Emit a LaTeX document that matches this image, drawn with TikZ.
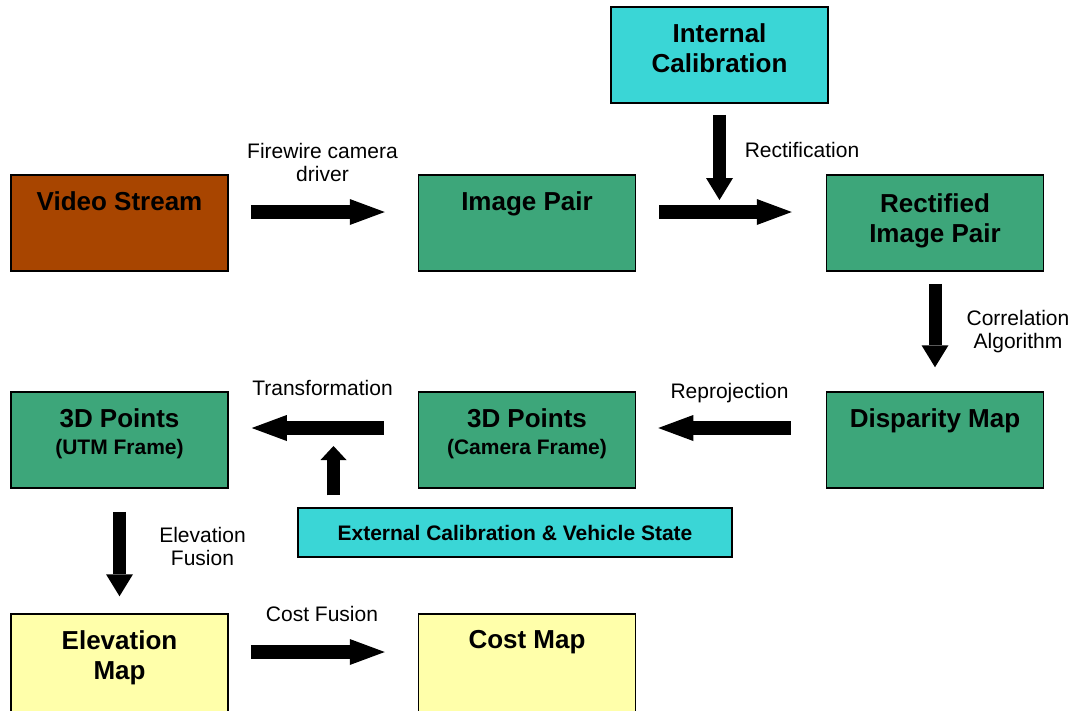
\documentclass[tikz,border=0pt]{standalone}
\usepackage{fontspec}
\setmainfont{Liberation Sans}
\usetikzlibrary{arrows.meta}
\definecolor{rust}{RGB}{168,69,0}
\definecolor{sea}{RGB}{61,166,122}
\definecolor{aqua}{RGB}{58,214,214}
\definecolor{cream}{RGB}{255,255,170}
\begin{document}
\begin{tikzpicture}[x=1pt,y=-1pt,
    box/.style={draw=black,line width=1.5pt,minimum width=217pt,minimum height=96pt,inner sep=0pt},
    title/.style={anchor=north,yshift=-17pt,inner sep=0pt,align=center,font=\bfseries\fontsize{26}{30}\selectfont},
    note/.style={anchor=north,inner sep=0pt,align=center,font=\fontsize{21}{23}\selectfont},
    flow/.style={line width=14pt,-{Triangle[width=26pt,length=35pt,line width=0pt]}},
    drop/.style={line width=13pt,-{Triangle[width=27pt,length=22pt,line width=0pt]}},
    lift/.style={line width=13pt,-{Triangle[width=26pt,length=14pt,line width=0pt]}}]
      \useasboundingbox (0,0) rectangle (1076,710);
      \path
        (719.5,55) node[box,fill=aqua,label={[title]north:Internal\\Calibration}] (intcal){}
        (119.5,223) node[box,fill=rust,label={[title]north:Video Stream}] (video){}
        (527,223) node[box,fill=sea,label={[title]north:Image Pair}] (pair){}
        (935,223) node[box,fill=sea,label={[title,yshift=-2pt]north:Rectified\\Image Pair}] (rect){}
        (935,440) node[box,fill=sea,label={[title]north:Disparity Map}] (disp){}
        (527,440) node[box,fill=sea,label={[title]north:3D Points\\[-3pt]\fontsize{21}{24}\selectfont(Camera Frame)}] (cam){}
        (119.5,440) node[box,fill=sea,label={[title]north:3D Points\\[-3pt]\fontsize{21}{24}\selectfont(UTM Frame)}] (utm){}
        (515,532.5) node[box,fill=aqua,minimum width=434pt,minimum height=49pt,
          font=\bfseries\fontsize{21}{24}\selectfont] (extcal){External Calibration \& Vehicle State}
        (119.5,663) node[box,fill=cream,minimum height=98pt,label={[title]north:Elevation\\Map}] (elev){}
        (527,663) node[box,fill=cream,minimum height=98pt,label={[title]north:Cost Map}] (cost){};
      % arrow labels
      \path
        (322.5,143) node[note] (fwlbl){Firewire camera\\driver}
        (802,142) node[note] (rectlbl){Rectification}
        (1018,310) node[note] (corrlbl){Correlation\\Algorithm}
        (729.5,383) node[note] (reprlbl){Reprojection}
        (322.5,380) node[note] (trnslbl){Transformation}
        (202.5,527) node[note] (elevlbl){Elevation\\Fusion}
        (322,606) node[note] (costlbl){Cost Fusion};
      \coordinate (rectjoin) at (719.5,212);
      \coordinate (utmjoin) at (333.5,428);
      \begin{scope}
        \draw[flow,shorten <=22pt,shorten >=33pt] ([yshift=11pt]video.east) to ([yshift=11pt]pair.west);
        \draw[flow,shorten <=23pt,shorten >=34pt] ([yshift=11pt]pair.east) to ([yshift=11pt]rect.west);
        \draw[drop,shorten <=11pt,shorten >=12pt] (intcal.south) to (rectjoin);
        \draw[drop,shorten <=12pt,shorten >=24pt] (rect.south) to (disp.north);
        \draw[flow,shorten <=35pt,shorten >=22pt] ([yshift=12pt]disp.west) to ([yshift=12pt]cam.east);
        \draw[flow,shorten <=34pt,shorten >=23pt] ([yshift=12pt]cam.west) to ([yshift=12pt]utm.east);
        \draw[lift,shorten <=12pt,shorten >=18pt] (extcal.north -| utmjoin) to (utmjoin);
        \draw[drop,shorten <=23pt,shorten >=17pt] (utm.south) to (elev.north);
        \draw[flow,shorten <=22pt,shorten >=33pt] ([yshift=11pt]elev.east) to ([yshift=11pt]cost.west);
      \end{scope}
    \end{tikzpicture}
\end{document}
